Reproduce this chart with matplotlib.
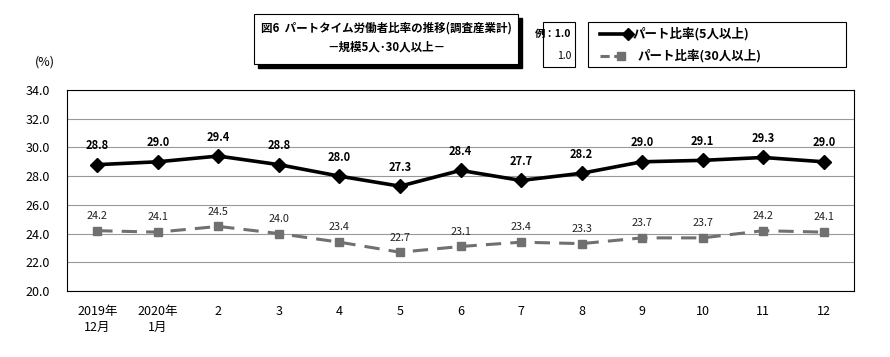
import numpy as np
import matplotlib.pyplot as plt
from matplotlib.patches import Rectangle

plt.rcParams['font.family'] = ['Noto Sans CJK JP', 'DejaVu Sans']

months = ["2019年\n12月", "2020年\n1月", "2", "3", "4", "5", "6", "7", "8", "9", "10", "11", "12"]
ratio_5 = [28.8, 29.0, 29.4, 28.8, 28.0, 27.3, 28.4, 27.7, 28.2, 29.0, 29.1, 29.3, 29.0]
ratio_30 = [24.2, 24.1, 24.5, 24.0, 23.4, 22.7, 23.1, 23.4, 23.3, 23.7, 23.7, 24.2, 24.1]
yticks = [20.0, 22.0, 24.0, 26.0, 28.0, 30.0, 32.0, 34.0]

W, H = 890, 357
fig = plt.figure(figsize=(W / 100, H / 100), dpi=100)
ax = fig.add_axes([67 / W, 1 - 291 / H, (854 - 67) / W, (291 - 90) / H])

x = np.arange(len(months))
ax.plot(x, ratio_5, color="black", lw=2.6, marker="D", ms=7, zorder=4)
ax.plot(x, ratio_30, color="#707070", lw=2.2, ls=(0, (5, 3)), marker="s", ms=6, zorder=3)

for xi, v in zip(x, ratio_5):
    ax.annotate(f"{v:.1f}", (xi, v), xytext=(0, 9), textcoords="offset points",
                ha="center", va="bottom", fontsize=8, fontweight="bold", color="black")
for xi, v in zip(x, ratio_30):
    ax.annotate(f"{v:.1f}", (xi, v), xytext=(0, 7), textcoords="offset points",
                ha="center", va="bottom", fontsize=7.8, color="#222222")

ax.set_xlim(-0.5, len(months) - 0.5)
ax.set_ylim(20, 34)
ax.set_yticks(yticks)
ax.set_yticklabels([f"{t:.1f}" for t in yticks], fontsize=9)
ax.set_xticks(x)
ax.set_xticklabels(months, fontsize=9, linespacing=1.3)
ax.tick_params(length=0, pad=10)
ax.tick_params(axis="y", pad=12)
ax.grid(axis="y", color="#999999", lw=0.8)
for s in ax.spines.values():
    s.set_color("black")
    s.set_linewidth(0.8)

fig.text(35 / W, 1 - 62 / H, "(%)", fontsize=9, ha="left", va="center")

# title box with shadow
fig.patches.append(Rectangle((258 / W, 1 - 68 / H), 264 / W, 50 / H, transform=fig.transFigure,
                             facecolor="black", edgecolor="black", zorder=1))
fig.patches.append(Rectangle((254 / W, 1 - 64 / H), 264 / W, 50 / H, transform=fig.transFigure,
                             facecolor="white", edgecolor="black", lw=0.8, zorder=2))
fig.text(386 / W, 1 - 28 / H, "図6  パートタイム労働者比率の推移(調査産業計)", fontsize=8.3,
         fontweight="bold", ha="center", va="center", zorder=3)
fig.text(386 / W, 1 - 47 / H, "－規模5人･30人以上－", fontsize=8.3,
         fontweight="bold", ha="center", va="center", zorder=3)

# example box
fig.patches.append(Rectangle((543 / W, 1 - 67 / H), 32 / W, 45 / H, transform=fig.transFigure,
                             facecolor="white", edgecolor="black", lw=0.8))
fig.text(571 / W, 1 - 34 / H, "例：1.0", fontsize=7.5, fontweight="bold", ha="right", va="center")
fig.text(571 / W, 1 - 56 / H, "1.0", fontsize=7.5, ha="right", va="center")

# legend box
fig.patches.append(Rectangle((588 / W, 1 - 67 / H), 258 / W, 45 / H, transform=fig.transFigure,
                             facecolor="white", edgecolor="black", lw=0.8))
fig.lines.append(plt.Line2D([600 / W, 628 / W], [1 - 34 / H] * 2, transform=fig.transFigure,
                            color="black", lw=2.6, marker="D", ms=6, markevery=[1]))
fig.lines.append(plt.Line2D([600 / W, 627 / W], [1 - 56 / H] * 2, transform=fig.transFigure,
                            color="#707070", lw=2.2, ls=(0, (3, 1.5))))
fig.lines.append(plt.Line2D([621 / W], [1 - 56 / H], transform=fig.transFigure,
                            color="#707070", marker="s", ms=6))
fig.text(633 / W, 1 - 34 / H, "パート比率(5人以上)", fontsize=9, fontweight="bold", ha="left", va="center")
fig.text(638 / W, 1 - 56 / H, "パート比率(30人以上)", fontsize=9, fontweight="bold", ha="left", va="center")

fig.savefig("out.png", dpi=100)
